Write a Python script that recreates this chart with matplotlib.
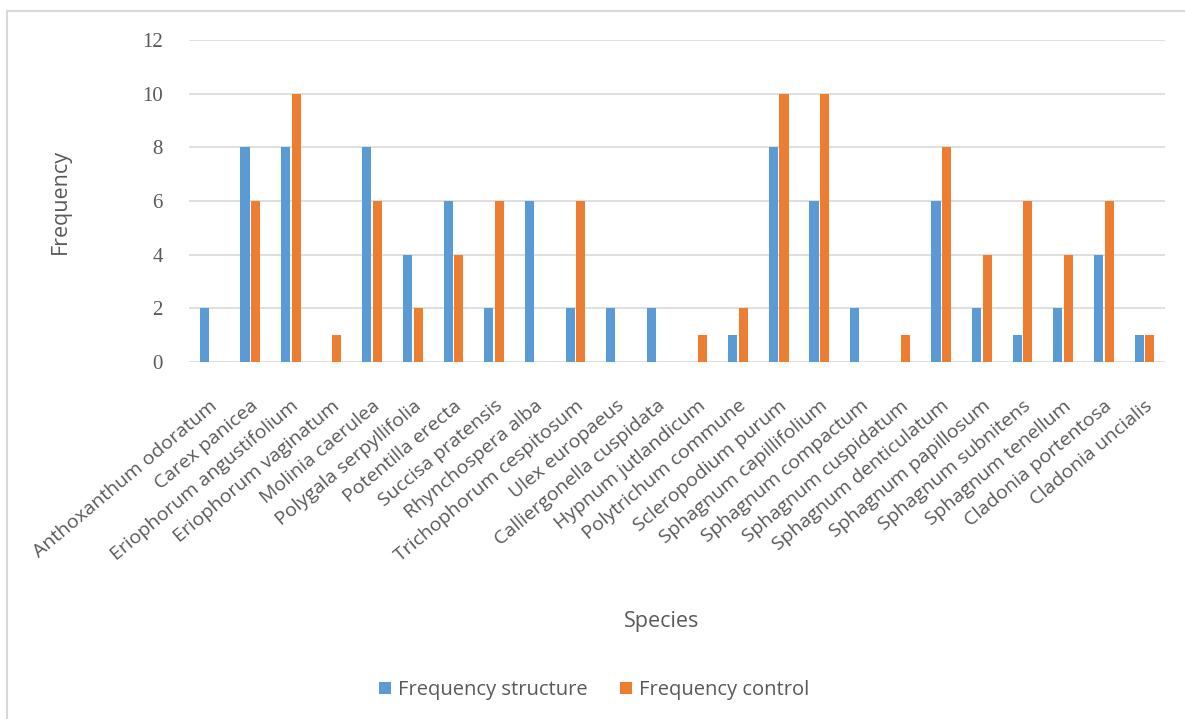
import matplotlib
matplotlib.use("Agg")
import matplotlib.pyplot as plt
from matplotlib.lines import Line2D
import numpy as np

species = [
    "Anthoxanthum odoratum", "Carex panicea", "Eriophorum angustifolium",
    "Eriophorum vaginatum", "Molinia caerulea", "Polygala serpyllifolia",
    "Potentilla erecta", "Succisa pratensis", "Rhynchospera alba",
    "Trichophorum cespitosum", "Ulex europaeus", "Calliergonella cuspidata",
    "Hypnum jutlandicum", "Polytrichum commune", "Scleropodium purum",
    "Sphagnum capillifolium", "Sphagnum compactum", "Sphagnum cuspidatum",
    "Sphagnum denticulatum", "Sphagnum papillosum", "Sphagnum subnitens",
    "Sphagnum tenellum", "Cladonia portentosa", "Cladonia uncialis",
]
freq_structure = [2, 8, 8, 0, 8, 4, 6, 2, 6, 2, 2, 2, 0, 1, 8, 6, 2, 0, 6, 2, 1, 2, 4, 1]
freq_control = [0, 6, 10, 1, 6, 2, 4, 6, 0, 6, 0, 0, 1, 2, 10, 10, 0, 1, 8, 4, 6, 4, 6, 1]
y_ticks = [0, 2, 4, 6, 8, 10, 12]

BLUE = "#5B9BD5"
ORANGE = "#ED7D31"
TEXT = "#595959"
GRID = "#D9D9D9"

W, H = 1185, 719
fig = plt.figure(figsize=(W / 100, H / 100), dpi=100)
fig.patch.set_facecolor("white")

# chart frame (left and top edges)
fig.add_artist(Line2D([7 / W, 7 / W], [0, 1 - 11 / H], transform=fig.transFigure,
                      color="#D9D9D9", lw=1.5))
fig.add_artist(Line2D([7 / W, 1], [1 - 11 / H, 1 - 11 / H], transform=fig.transFigure,
                      color="#D9D9D9", lw=1.5))

left, right = 189.3 / W, 1164.8 / W
top, bottom = 1 - 40 / H, 1 - 362 / H
ax = fig.add_axes([left, bottom, right - left, top - bottom])

x = np.arange(len(species))
bw = 0.225
off = 0.13
ax.bar(x - off, freq_structure, width=bw, color=BLUE, label="Frequency structure", zorder=3)
ax.bar(x + off, freq_control, width=bw, color=ORANGE, label="Frequency control", zorder=3)

ax.set_xlim(-0.5, len(species) - 0.5)
ax.set_ylim(0, 12)
ax.set_yticks(y_ticks)
ax.set_yticklabels([str(v) for v in y_ticks], fontfamily="Liberation Serif",
                   fontsize=15, color=TEXT)
ax.tick_params(axis="y", length=0, pad=19)
ax.yaxis.grid(True, color=GRID, lw=1.2, zorder=0)
ax.set_axisbelow(True)
for s in ax.spines.values():
    s.set_visible(False)

ax.set_xticks(x)
ax.set_xticklabels(species, rotation=40, ha="right", rotation_mode="anchor",
                   fontfamily="Open Sans", fontsize=14, color=TEXT)
ax.tick_params(axis="x", length=0, pad=25)

fig.text(60 / W, 1 - 201 / H, "Frequency", rotation=90, ha="center", va="center",
         fontfamily="Open Sans", fontsize=15.5, color=TEXT)
fig.text(662 / W, 1 - 622 / H, "Species", ha="center", va="center",
         fontfamily="Open Sans", fontsize=15.5, color=TEXT)

handles, labels = ax.get_legend_handles_labels()
fig.legend(handles, labels, loc="center", bbox_to_anchor=(594 / W, 1 - 690 / H),
           ncol=2, frameon=False, handlelength=0.6, handleheight=0.6,
           handletextpad=0.35, columnspacing=1.6,
           prop={"family": "Open Sans", "size": 14.5}, labelcolor=TEXT)

fig.savefig("out.png", dpi=100, facecolor="white")
